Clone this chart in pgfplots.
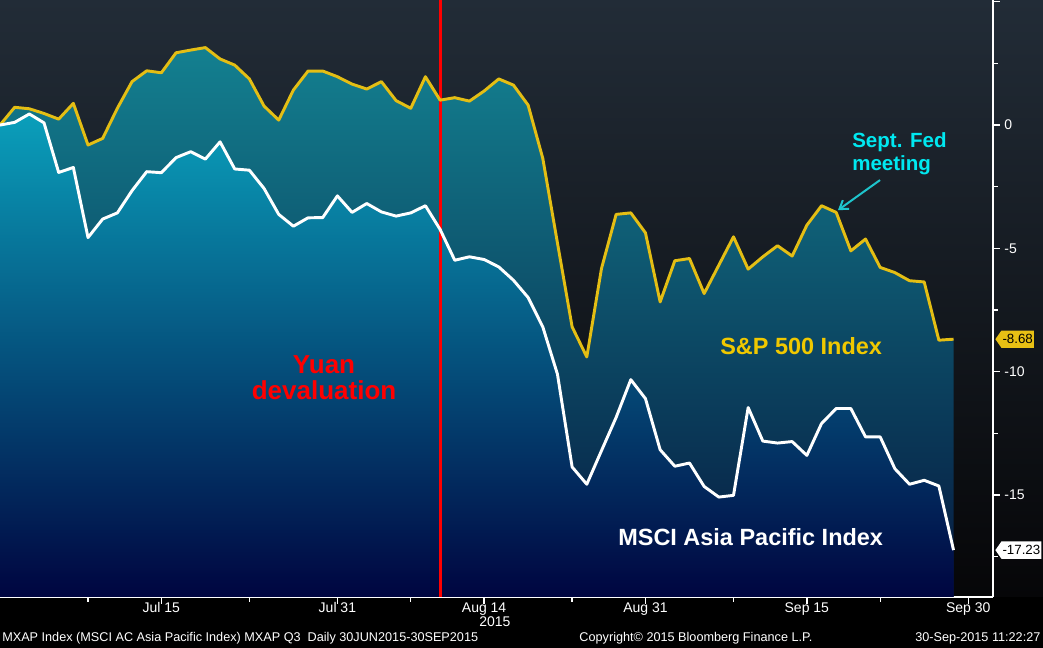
\documentclass[border=0pt]{standalone}
\usepackage{pgfplots}
\pgfplotsset{compat=1.18}
\usepackage{pgfplotstable}
\usepackage{fontspec}
\setmainfont{Liberation Sans}
\usetikzlibrary{shapes.symbols,arrows.meta}

\definecolor{bgtop}{RGB}{34,44,55}
\definecolor{bgbot}{RGB}{6,6,8}
\definecolor{spTop}{RGB}{19,128,144}
\definecolor{spBot}{RGB}{6,24,62}
\definecolor{msTop}{RGB}{10,159,187}
\definecolor{msBot}{RGB}{0,5,64}
\definecolor{spLine}{RGB}{228,190,20}
\definecolor{spText}{RGB}{240,200,0}
\definecolor{fedText}{RGB}{0,232,240}
\definecolor{fedArrow}{RGB}{30,196,204}
\definecolor{flagY}{RGB}{232,192,20}

\pgfplotstableread{
i sp ms
0 0 0
1 0.72 0.11
2 0.66 0.45
3 0.47 0.09
4 0.24 -1.92
5 0.88 -1.72
6 -0.81 -4.56
7 -0.54 -3.81
8 0.68 -3.56
9 1.76 -2.66
10 2.20 -1.89
11 2.12 -1.93
12 2.93 -1.32
13 3.04 -1.08
14 3.14 -1.38
15 2.68 -0.68
16 2.43 -1.78
17 1.87 -1.83
18 0.77 -2.57
19 0.20 -3.62
20 1.42 -4.10
21 2.19 -3.76
22 2.19 -3.75
23 1.96 -2.87
24 1.66 -3.54
25 1.46 -3.18
26 1.76 -3.52
27 0.99 -3.69
28 0.68 -3.56
29 1.96 -3.27
30 1.01 -4.23
31 1.11 -5.48
32 0.97 -5.34
33 1.38 -5.45
34 1.87 -5.75
35 1.62 -6.29
36 0.81 -6.99
37 -1.35 -8.18
38 -4.78 -10.10
39 -8.18 -13.86
40 -9.40 -14.56
41 -5.82 -13.20
42 -3.62 -11.85
43 -3.56 -10.32
44 -4.37 -11.09
45 -7.17 -13.16
46 -5.50 -13.83
47 -5.41 -13.70
48 -6.83 -14.65
49 -5.68 -15.08
50 -4.53 -15.01
51 -5.84 -11.45
52 -5.34 -12.81
53 -4.89 -12.89
54 -5.31 -12.83
55 -4.06 -13.39
56 -3.27 -12.10
57 -3.54 -11.49
58 -5.10 -11.49
59 -4.62 -12.64
60 -5.77 -12.64
61 -5.98 -13.93
62 -6.31 -14.56
63 -6.36 -14.40
64 -8.72 -14.63
65 -8.68 -17.23
}\data

\begin{document}
\begin{tikzpicture}
\path[use as bounding box] (0pt,0pt) rectangle (782.25pt,486pt);
\fill[black] (0pt,0pt) rectangle (782.25pt,486pt);
\shade[top color=bgtop, bottom color=bgbot] (0pt,38.25pt) rectangle (782.25pt,486pt);
\begin{axis}[
  at={(0pt,38.25pt)}, anchor=south west,
  scale only axis, width=744.75pt, height=447.75pt,
  xmin=0, xmax=67.69, ymin=-19.13, ymax=5.07,
  axis x line*=bottom, axis y line*=right,
  axis line style={white, line width=1.1pt},
  xtick={11,23,33,44,55,66},
  xticklabels={Jul 15,Jul 31,Aug 14,Aug 31,Sep 15,Sep 30},
  minor xtick={6,17,28,39,50,60},
  ytick={-15,-10,-5,0,5},
  yticklabels={-15,-10,-5,0,{}},
  minor ytick={-17.5,-12.5,-7.5,-2.5,2.5},
  tick align=outside,
  major tick length=5pt, minor tick length=3.5pt,
  every tick/.style={white, line width=1pt},
  tick label style={text=white, font=\fontsize{10.5}{12}\selectfont},
  xticklabel style={yshift=4.5pt},
]
\addplot[draw=none, top color=spTop, bottom color=spBot] table[x=i,y=sp]{\data} -- (axis cs:65,-19.13) -- (axis cs:0,-19.13) -- cycle;
\addplot[draw=none, top color=msTop, bottom color=msBot] table[x=i,y=ms]{\data} -- (axis cs:65,-19.13) -- (axis cs:0,-19.13) -- cycle;
\addplot[red, line width=2.3pt] coordinates {(30,-19.13) (30,5.07)};
\addplot[spLine, line width=2.2pt, line join=round] table[x=i,y=sp]{\data};
\addplot[white, line width=2.2pt, line join=round] table[x=i,y=ms]{\data};

\node[font=\bfseries\fontsize{19.5}{19.5}\selectfont, text=red, align=center] at (axis cs:22.09,-10.26) {Yuan\\devaluation};
\node[font=\bfseries\fontsize{15.4}{17.25}\selectfont, text=fedText, align=left, anchor=west, inner sep=0pt] at (axis cs:58.08,-1.18) {Sept. Fed\\meeting};
\draw[fedArrow, line width=1.5pt, -{Straight Barb[length=6pt,width=8pt]}] (axis cs:59.99,-2.23) -- (axis cs:57.12,-3.45);
\node[font=\bfseries\fontsize{17.6}{20}\selectfont, text=spText, anchor=west, inner sep=0pt] at (axis cs:49.08,-8.96) {S\&P 500 Index};
\node[font=\bfseries\fontsize{17.6}{20}\selectfont, text=white, anchor=west, inner sep=0pt] at (axis cs:42.13,-16.70) {MSCI Asia Pacific Index};
\coordinate (f1) at (axis cs:67.83,-8.68);
\coordinate (f2) at (axis cs:67.83,-17.23);
\end{axis}
\node[signal, signal to=west, signal pointer angle=110, fill=flagY, text=black, font=\fontsize{10}{12}\selectfont, inner xsep=0.8pt, inner ysep=1.5pt, minimum height=13pt, anchor=west] at (f1) {-8.68};
\node[signal, signal to=west, signal pointer angle=110, fill=white, text=black, font=\fontsize{10}{12}\selectfont, inner xsep=0.8pt, inner ysep=1.5pt, minimum height=13pt, anchor=west] at (f2) {-17.23};
\node[text=white, anchor=east, inner sep=0pt, font=\fontsize{10.5}{12}\selectfont] at (383pt,20pt) {2015};
\node[text=white, anchor=west, inner sep=0pt, font=\fontsize{9.5}{11}\selectfont] at (1.5pt,7pt) {MXAP Index (MSCI AC Asia Pacific Index) MXAP Q3\ \ Daily 30JUN2015-30SEP2015};
\node[text=white, inner sep=0pt, font=\fontsize{9.5}{11}\selectfont] at (522pt,7pt) {Copyright© 2015 Bloomberg Finance L.P.};
\node[text=white, anchor=east, inner sep=0pt, font=\fontsize{9.5}{11}\selectfont] at (780.5pt,7pt) {30-Sep-2015 11:22:27};
\end{tikzpicture}
\end{document}
